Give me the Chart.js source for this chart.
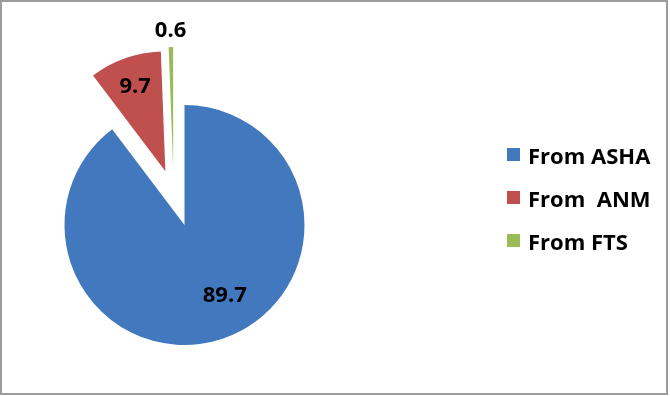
<!DOCTYPE html>
<html>
<head>
<meta charset="utf-8">
<script src="https://cdn.jsdelivr.net/npm/chart.js@4.4.0/dist/chart.umd.min.js"></script>
<style>
  body { margin: 0; background: #fff; }
  #frame { position: absolute; left: 0; top: 0; width: 664px; height: 391px; border: 2px solid #9c9c9c; }
  #pie-chart { position: absolute; left: 0; top: 0; }
  #legend { position: absolute; left: 507px; top: 133px; margin: 0; padding: 0; list-style: none;
            font: bold 22px "Open Sans"; color: #000; }
  #legend li { height: 43px; display: flex; align-items: center; white-space: pre; }
  #legend .box { width: 13px; height: 13px; margin-right: 8px; flex: none; }
</style>
</head>
<body>
<div id="frame"></div>
<canvas id="pie-chart" width="670" height="396"></canvas>
<ul id="legend"></ul>
<script>
// data
const labels = ["From ASHA", "From  ANM", "From FTS"];
const values = [89.7, 9.7, 0.6];
const colors = ["#4279BE", "#C0504D", "#9BBB59"];

// slice explode distance (px) + direction tweak (deg), label distance (fraction of radius) + tweak (deg)
const explode = [0, 57, 59];
const explodeShift = [0, 0, -10];
const labelRadius = [0.68, 0.75, 1.14];
const labelShift = [-11, 0, 0];

const DEG = Math.PI / 180;

// draw slices pulled out from the centre, like an exploded Excel pie
const explodePlugin = {
  id: "explode",
  beforeDatasetDraw(chart, args) {
    const ctx = chart.ctx;
    args.meta.data.forEach((arc, i) => {
      const dir = (arc.startAngle + arc.endAngle) / 2 + explodeShift[i] * DEG;
      ctx.save();
      ctx.translate(Math.cos(dir) * explode[i], Math.sin(dir) * explode[i]);
      arc.draw(ctx);
      ctx.restore();
    });
    return false;
  },
};

// value labels on the slices
const labelPlugin = {
  id: "sliceLabels",
  afterDatasetsDraw(chart) {
    const ctx = chart.ctx;
    const meta = chart.getDatasetMeta(0);
    ctx.save();
    ctx.font = 'bold 22px "Open Sans"';
    ctx.fillStyle = "#000";
    ctx.textAlign = "center";
    ctx.textBaseline = "middle";
    meta.data.forEach((arc, i) => {
      const mid = (arc.startAngle + arc.endAngle) / 2;
      const dir = mid + explodeShift[i] * DEG;
      const cx = arc.x + Math.cos(dir) * explode[i];
      const cy = arc.y + Math.sin(dir) * explode[i];
      const a = mid + labelShift[i] * DEG;
      const d = arc.outerRadius * labelRadius[i];
      ctx.fillText(String(values[i]), cx + Math.cos(a) * d, cy + Math.sin(a) * d);
    });
    ctx.restore();
  },
};

const ctx = document.getElementById("pie-chart").getContext("2d");
new Chart(ctx, {
  type: "pie",
  data: {
    labels: labels,
    datasets: [
      {
        data: values,
        backgroundColor: colors,
        borderWidth: 0,
        hoverOffset: 0,
        offset: 0,
      },
    ],
  },
  options: {
    responsive: false,
    animation: false,
    devicePixelRatio: 1,
    layout: {
      padding: { left: 64.5, top: 105, right: 365.5, bottom: 51 },
    },
    plugins: {
      legend: { display: false },
      tooltip: { enabled: false },
    },
  },
  plugins: [explodePlugin, labelPlugin],
});

// legend built from the same arrays
const legend = document.getElementById("legend");
labels.forEach((label, i) => {
  const li = document.createElement("li");
  const box = document.createElement("span");
  box.className = "box";
  box.style.background = colors[i];
  li.appendChild(box);
  li.appendChild(document.createTextNode(label));
  legend.appendChild(li);
});
</script>
</body>
</html>
